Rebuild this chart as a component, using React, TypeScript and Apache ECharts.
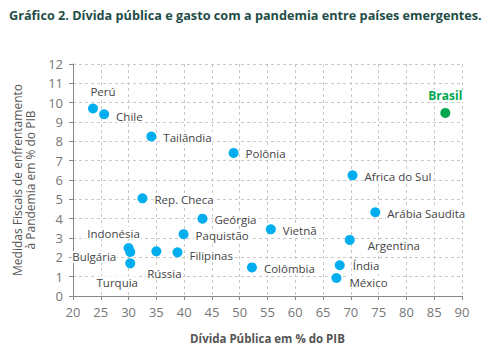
import React, { useEffect, useRef } from "react";
import * as echarts from "echarts";

const countries = ["Perú", "Chile", "Tailândia", "Polônia", "Rep. Checa", "Geórgia", "Paquistão", "Indonésia", "Bulgária", "Turquia", "Rússia", "Filipinas", "Colômbia", "Vietnã", "Arábia Saudita", "Argentina", "Índia", "México", "Africa do Sul"];
const debt = [23.6, 25.6, 34.1, 48.9, 32.5, 43.3, 39.9, 30.0, 30.3, 30.3, 35.0, 38.8, 52.2, 55.6, 74.4, 69.8, 68.0, 67.4, 70.3];
const fiscal = [9.7, 9.4, 8.25, 7.4, 5.05, 4.0, 3.2, 2.48, 2.28, 1.69, 2.31, 2.26, 1.48, 3.45, 4.33, 2.9, 1.59, 0.93, 6.24];
const brazil = { name: "Brasil", debt: 87.0, fiscal: 9.47 };
const xTicks = [20, 90, 5];
const yTicks = [0, 12, 1];

const labelPos: Record<string, any> = {
  "Perú": { position: "top", offset: [10, 0] },
  "Indonésia": { position: "top", offset: [-15, 2] },
  "Bulgária": { position: "left", offset: [-2, 5] },
  "Turquia": { position: "bottom", offset: [-13, 2] },
  "Rússia": { position: "bottom", offset: [8, 5] },
  "Filipinas": { position: "right", offset: [0, 3] },
  "Argentina": { position: "right", offset: [6, 6] },
  "Índia": { position: "right", offset: [1, 0] },
  "México": { position: "right", offset: [1, 4] },
  "Chile": { position: "right", offset: [0, 2] },
};

const FONT = "'Open Sans', 'Noto Sans', sans-serif";

export default function App() {
  const ref = useRef<HTMLDivElement>(null);
  useEffect(() => {
    const chart = echarts.init(ref.current!, undefined, { renderer: "svg" });
    const data = countries.map((c, i) => {
      const lp = labelPos[c] || { position: "right", offset: [0, 1] };
      return {
        name: c,
        value: [debt[i], fiscal[i]],
        label: { show: true, formatter: c, position: lp.position, offset: lp.offset },
      };
    });
    chart.setOption({
      animation: false,
      title: {
        text: "Gráfico 2. Dívida pública e gasto com a pandemia entre países emergentes.",
        left: 4,
        top: 3,
        textStyle: { fontFamily: FONT, fontSize: 12.7, fontWeight: "bold", color: "#1f4d47" },
      },
      grid: { left: 73, right: 38, top: 64, bottom: 59 },
      xAxis: {
        type: "value",
        min: xTicks[0],
        max: xTicks[1],
        interval: xTicks[2],
        name: "Dívida Pública em % do PIB",
        nameLocation: "middle",
        nameGap: 36,
        nameTextStyle: { fontFamily: FONT, fontSize: 11.5, fontWeight: "bold", color: "#555" },
        axisLine: { show: true, lineStyle: { color: "#888", width: 1 } },
        axisTick: { show: true, length: 4, lineStyle: { color: "#888" } },
        axisLabel: { fontFamily: FONT, fontSize: 13, color: "#777", margin: 9 },
        splitLine: { show: true, lineStyle: { color: "#c8c8c8", type: [3, 3] } },
      },
      yAxis: {
        type: "value",
        min: yTicks[0],
        max: yTicks[1],
        interval: yTicks[2],
        name: "Medidas Fiscais de enfrentamento\nà Pandemia em % do PIB",
        nameLocation: "middle",
        nameGap: 31,
        nameTextStyle: { fontFamily: FONT, fontSize: 12, fontWeight: "normal", color: "#555", lineHeight: 13 },
        axisLine: { show: true, lineStyle: { color: "#888", width: 1 } },
        axisTick: { show: true, length: 4, lineStyle: { color: "#888" } },
        axisLabel: { fontFamily: FONT, fontSize: 13, color: "#777", margin: 10 },
        splitLine: { show: true, lineStyle: { color: "#c8c8c8", type: [3, 3] } },
      },
      series: [
        {
          type: "scatter",
          symbolSize: 10,
          itemStyle: { color: "#00aeef", opacity: 1 },
          label: {
            fontFamily: FONT,
            fontSize: 11.5,
            color: "#444",
            backgroundColor: "#fff",
            padding: [0, 1],
            distance: 6,
          },
          data,
        },
        {
          type: "scatter",
          symbolSize: 10,
          itemStyle: { color: "#00a650", opacity: 1 },
          label: {
            show: true,
            formatter: brazil.name,
            position: "top",
            distance: 6,
            fontFamily: FONT,
            fontSize: 12,
            fontWeight: "bold",
            color: "#00a650",
            backgroundColor: "#fff",
            padding: [0, 1],
          },
          data: [[brazil.debt, brazil.fiscal]],
        },
      ],
    });
    return () => chart.dispose();
  }, []);
  return <div ref={ref} style={{ width: 500, height: 355, margin: -8 }} />;
}
